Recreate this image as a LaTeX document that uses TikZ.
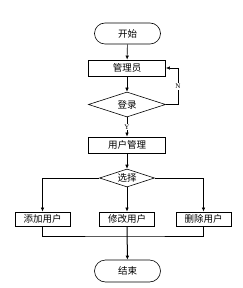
\documentclass[tikz,border=0pt]{standalone}
\usepackage{fontspec}
\setmainfont{Liberation Serif}
\newfontfamily\cjk{Noto Sans CJK SC}
\usetikzlibrary{shapes.geometric,arrows.meta}
\begin{document}
\begin{tikzpicture}[x=1pt,y=-1pt,line width=0.6pt,
	arr/.style={-{Latex[length=4pt,width=3.6pt]}},
	term/.style={draw,rounded corners=10.5pt,minimum width=66pt,minimum height=21pt,inner sep=0pt,font=\cjk\fontsize{9.5}{11}\selectfont},
	box/.style={draw,line width=0.9pt,minimum width=77pt,minimum height=16pt,inner sep=0pt,font=\cjk\fontsize{9.5}{11}\selectfont},
	sbox/.style={box,minimum width=55pt,minimum height=14pt},
	dia/.style={draw,diamond,aspect=3,inner sep=0pt,font=\cjk\fontsize{9.5}{11}\selectfont},
	lab/.style={fill=white,inner sep=1pt,font=\fontsize{7}{8}\selectfont}]
			\useasboundingbox (0,0) rectangle (242,288);
			\node[term] (S) at (127.5,33.5) {开始};
			\node[box] (A) at (127,68) {管理员};
			\node[dia,minimum width=77pt,minimum height=25pt] (B) at (127,104.5) {登录};
			\node[box] (C) at (127,145) {用户管理};
			\node[dia,minimum width=55pt,minimum height=18pt] (D) at (127,178) {选择};
			\node[sbox] (L) at (42.5,219) {添加用户};
			\node[sbox] (M) at (127,219) {修改用户};
			\node[sbox] (R) at (203.5,219) {删除用户};
			\node[term,minimum height=22pt,rounded corners=11pt] (E) at (127.5,271) {结束};
			\coordinate (J) at (127,236);
			\draw[arr] (S)--(A);\draw[arr] (A)--(B);
			\draw[arr] (B.east)--++(12,0) |- node[lab,pos=0.25]{N} (A.east);
			\draw[arr] (B)-- node[lab]{Y} (C);\draw[arr] (C)--(D);
			\draw[arr] (D.west)-|(L);\draw[arr] (D)--(M);\draw[arr] (D.east)-|(R);
			\draw (L)|-(J)-|(R);\draw[arr,line width=1pt] (M)--(E);
			\end{tikzpicture}
\end{document}
